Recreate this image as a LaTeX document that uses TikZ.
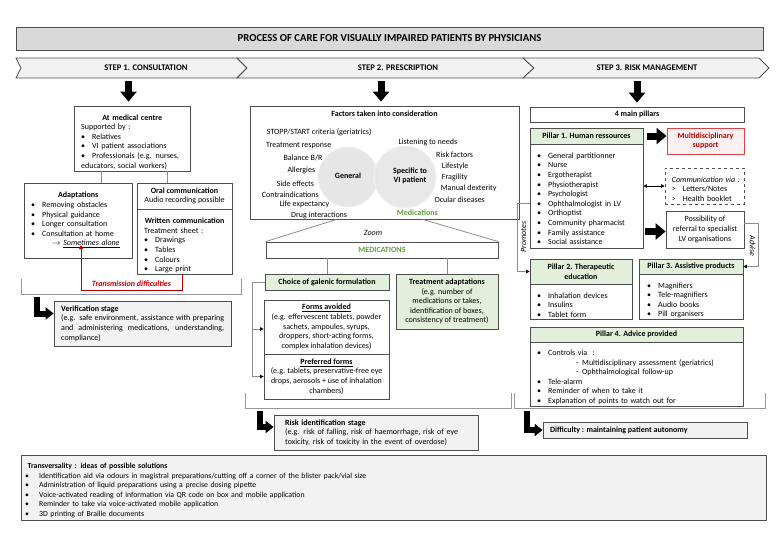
\documentclass[tikz,border=0pt]{standalone}
\usepackage{fontspec}
\setmainfont{Carlito}
\usetikzlibrary{arrows.meta,calc,fit}
\definecolor{bord}{HTML}{4D4D4D}
\definecolor{lgray}{HTML}{F2F2F2}
\definecolor{tgray}{HTML}{D9D9D9}
\definecolor{lgreen}{HTML}{E2EFDA}
\definecolor{dgreen}{HTML}{5E9E3A}
\definecolor{redt}{HTML}{C00000}
\definecolor{redb}{HTML}{D64545}
\definecolor{pinkf}{HTML}{FDF0F0}
\definecolor{lnkc}{HTML}{8C8C8C}
\definecolor{circc}{HTML}{E6E6E6}
\newcommand\fs{\fontsize{8}{9.6}\selectfont}
\newcommand\fst{\fontsize{7.75}{9.6}\selectfont}
\newcommand\li[1]{\par\noindent{#1}}
\newcommand\bu[1]{\par\noindent\hangindent=11pt\hangafter=1\hbox to 11pt{\textbullet\hfil}#1}
\newcommand\bw[1]{\par\noindent\hangindent=14pt\hangafter=1\hbox to 14pt{\textbullet\hfil}#1}
\newcommand\ct[1]{\par\noindent\hbox to\hsize{\hss#1\hss}}
\newcommand\subi[1]{\par\noindent\hspace*{39pt}\hbox to 6pt{-\hfil}#1}
\newcommand\gt[1]{\par\noindent\hbox to 11pt{>\hfil}#1}
\newcommand\mkbox[6]{\node[#6, fit={(#2,-#3) (#4,-#5)}] (#1) {};}
\tikzset{
  frame/.style={draw=bord, line width=0.8pt, inner sep=0pt},
  gframe/.style={frame, fill=lgray},
  nframe/.style={frame, fill=lgreen},
  txt/.style={inner sep=0pt, anchor=north west, align=left, font=\fs},
  ctxt/.style={inner sep=0pt, align=center, font=\fs},
  fl/.style={inner sep=0pt, anchor=west, font=\fs},
  steplab/.style={inner sep=0pt, font=\bfseries\fontsize{8.6}{10}\selectfont},
  chev/.style={fill=lgray, draw=bord, line width=0.8pt},
  lnk/.style={draw=lnkc, line width=0.8pt},
  brk/.style={draw=lnkc!90!white, line width=0.8pt},
  bigarrow/.style={line width=7pt, -{Triangle[length=10pt,width=16pt]}},
  larrow/.style={line width=6pt, -{Triangle[length=8pt,width=12pt]}},
  tip/.style={-{Triangle[length=3.5pt,width=3.5pt,black]}},
  rot/.style={inner sep=0pt, font=\fs\itshape}
}
\begin{document}
\begin{tikzpicture}[x=1pt,y=1pt]
\useasboundingbox (0,0) rectangle (779,-550);
\fill[white] (0,0) rectangle (779,-550);

% ---------- header ----------
\mkbox{title}{16}{27}{763}{50}{frame, fill=tgray}
\node[inner sep=0pt, font=\bfseries\fontsize{10.7}{12}\selectfont] (titleT) at (title) {PROCESS OF CARE FOR VISUALLY IMPAIRED PATIENTS BY PHYSICIANS};

\filldraw[chev] (16,-58) -- (237,-58) -- (247,-68) -- (237,-78) -- (16,-78) -- (21,-68) -- cycle;
\filldraw[chev] (237,-58) -- (523,-58) -- (534,-68) -- (523,-78) -- (237,-78) -- (247,-68) -- cycle;
\filldraw[chev] (523,-58) -- (759,-58) -- (769,-68) -- (759,-78) -- (523,-78) -- (534,-68) -- cycle;
\node[steplab] (s1) at (146,-68) {STEP 1. CONSULTATION};
\node[steplab] (s2) at (398,-68) {STEP 2. PRESCRIPTION};
\node[steplab] (s3) at (647,-68) {STEP 3. RISK MANAGEMENT};

\coordinate (a1) at (128.5,-81);
\coordinate (a2) at (381,-81);
\coordinate (a3) at (637,-81);

% ---------- step 1 ----------
\mkbox{med}{74}{106}{190}{171}{frame}
\node[txt, text width=102pt] (medT) at (81,-110.3) {\ct{\bfseries At medical centre}\li{Supported by :}\bu{Relatives}\bu{VI patient associations}\bu{Professionals (e.g. nurses,\newline educators, social workers)}};
\draw[bigarrow, shorten >=4pt] (a1) -- (a1 |- med.north);

\mkbox{adapt}{24}{183}{132}{258}{frame}
\node[txt, text width=94pt] (adaptT) at (31,-188) {\ct{\bfseries Adaptations}\bu{Removing obstacles}\bu{Physical guidance}\bu{Longer consultation}\bu{Consultation at home}\li{\hspace*{21pt}$\rightarrow$ \underline{\itshape Sometimes alone}}};
\coordinate (alone) at (81,-245);

\mkbox{oral}{137}{183}{232}{209}{frame}
\node[ctxt] (oralT) at (oral) {{\bfseries Oral communication}\\Audio recording possible};
\mkbox{writ}{137}{209}{232}{274}{frame}
\node[txt, text width=81pt] (writT) at (144,-213.8) {\ct{\bfseries Written communication}\li{Treatment sheet :}\bu{Drawings}\bu{Tables}\bu{Colours}\bu{Large print}};

\draw[lnk] ($(med.south west)+(28,0)$) -- ($(adapt.north west)+(78,0)$);
\draw[lnk] ($(med.south west)+(94,0)$) -- ($(oral.north west)+(31,0)$);

\draw[redt, line width=0.9pt, -{Triangle[length=4pt,width=4pt]}] ($(writ.south west)+(46,0)$) -- ++(0,-16) -| (alone);
\node[inner sep=0pt, font=\fs\bfseries\itshape, text=redt] (transd) at (131.5,-284) {Transmission difficulties};

\draw[brk] (21,-279) -- (21,-294) -- (241,-294) -- (241,-279);

\mkbox{ver}{54}{301}{231}{346}{gframe}
\node[txt, text width=163pt, align=justify] (verT) at (61,-305.5) {{\bfseries Verification stage}\par(e.g. safe environment, assistance with preparing\linebreak and administering medications, understanding,\linebreak compliance)};
\coordinate (L1) at (37,-296.5);
\draw[larrow] (L1) |- ([yshift=10pt]ver.west);

% ---------- step 2 ----------
\mkbox{fac}{250}{106}{519}{219}{frame}
\draw[bigarrow, shorten >=4pt] (a2) -- (a2 |- fac.north);
\node[ctxt, font=\fs\bfseries] (facT) at (384.5,-113.5) {Factors taken into consideration};
\node[circle, inner sep=0pt, minimum size=60pt, fill=circc, draw=white!50!circc, line width=0.8pt] (cg) at (348,-177) {};
\node[circle, inner sep=0pt, minimum size=62pt, fill=circc, fill opacity=0.9, draw=white!50!circc, line width=0.8pt] (cs) at (405,-177) {};
\node[ctxt, font=\fs\bfseries] (cgT) at (348,-176) {General};
\node[ctxt, font=\fs\bfseries] (csT) at (410,-176) {Specific to\\VI patient};
\node[fl] (f1) at (266.7,-132.3) {STOPP/START criteria (geriatrics)};
\node[fl] (f2) at (266,-145.7) {Treatment response};
\node[fl] (f3) at (283.3,-158) {Balance B/R};
\node[fl] (f4) at (287.3,-170.7) {Allergies};
\node[fl] (f5) at (276.7,-183.3) {Side effects};
\node[fl] (f6) at (261.7,-194.3) {Contraindications};
\node[fl] (f7) at (279.3,-204.3) {Life expectancy};
\node[fl] (f8) at (291,-215.7) {Drug interactions};
\node[fl] (g1) at (398.3,-142.3) {Listening to needs};
\node[fl] (g2) at (436,-154.7) {Risk factors};
\node[fl] (g3) at (441.7,-166) {Lifestyle};
\node[fl] (g4) at (441.7,-177) {Fragility};
\node[fl] (g5) at (440.7,-188.7) {Manual dexterity};
\node[fl] (g6) at (434.3,-200) {Ocular diseases};
\node[fl, text=dgreen, font=\fs\bfseries] (g7) at (396.7,-212.3) {Medications};

\mkbox{meds}{266}{242}{498}{258}{frame}
\node[ctxt, font=\fs\bfseries, text=dgreen] (medsT) at (meds) {MEDICATIONS};
\draw[lnk] ($(fac.south west)+(87,0)$) -- (meds.north west);
\draw[lnk] ($(fac.south west)+(173,0)$) -- (meds.north east);
\node[ctxt, font=\fs\itshape] (zoomT) at (373,-233) {Zoom};

\mkbox{galenic}{265}{274}{389}{290}{nframe}
\node[ctxt, font=\fs\bfseries] (galT) at (galenic) {Choice of galenic formulation};
\mkbox{treat}{396}{274}{498}{329}{nframe}
\node[ctxt] (treatT) at (treat) {{\bfseries Treatment adaptations}\\(e.g. number of\\medications or takes,\\identification of boxes,\\consistency of treatment)};
\draw[lnk] ($(meds.south west)+(62,0)$) -- ($(galenic.north west)+(63,0)$);
\draw[lnk] ($(meds.south west)+(182,0)$) -- ($(treat.north west)+(52,0)$);

\mkbox{avoid}{264}{300}{389}{354}{frame}
\node[ctxt] (avoidT) at (avoid) {\underline{\bfseries Forms avoided}\\(e.g. effervescent tablets, powder\\sachets, ampoules, syrups,\\droppers, short-acting forms,\\complex inhalation devices)};
\mkbox{pref}{264}{354}{389}{399}{frame}
\node[ctxt] (prefT) at (pref) {\underline{\bfseries Preferred forms}\\(e.g. tablets, preservative-free eye\\drops, aerosols + use of inhalation\\chambers)};
\draw[lnk, tip] (galenic.west) -- ++(-12,0) coordinate (gk) |- ([yshift=-2pt]avoid.west);
\draw[lnk, tip] (gk) |- (pref.west);

\draw[brk] (245,-393) -- (245,-408) -- (511,-408) -- (511,-393);

\mkbox{risk}{274}{415}{478}{450}{gframe}
\node[txt, text width=190pt] (riskT) at (285,-419.3) {{\bfseries Risk identification stage}\par(e.g. risk of falling, risk of haemorrhage, risk of eye\newline toxicity, risk of toxicity in the event of overdose)};
\coordinate (L2) at (259.5,-410.5);
\draw[larrow] (L2) |- ([yshift=5.5pt]risk.west);

% ---------- step 3 ----------
\mkbox{pillars}{530}{107}{744}{122}{frame}
\node[ctxt, font=\fs\bfseries] (pillarsT) at (pillars) {4 main pillars};
\draw[bigarrow, shorten >=4pt] (a3) -- (a3 |- pillars.north);

\mkbox{p1h}{530}{128}{643}{144}{nframe}
\node[ctxt, font=\fs\bfseries] (p1hT) at (p1h) {Pillar 1. Human ressources};
\mkbox{p1b}{530}{144}{643}{248}{frame}
\node[txt, text width=99pt] (p1bT) at (537,-148.5) {\bu{General partitionner}\bu{Nurse}\bu{Ergotherapist}\bu{Physiotherapist}\bu{Psychologist}\bu{Ophthalmologist in LV}\bu{Orthoptist}\bu{Community pharmacist}\bu{Family assistance}\bu{Social assistance}};

\mkbox{multi}{667}{128}{744}{154}{draw=redb, line width=0.9pt, fill=pinkf, inner sep=0pt}
\node[ctxt, font=\fs\bfseries, text=redt] (multiT) at (multi) {Multidisciplinary\\support};
\draw[bigarrow] ([xshift=4pt]p1h.east) -- (multi.west |- p1h.east);

\mkbox{comm}{665}{168}{744}{204}{draw=bord, line width=0.8pt, dashed, inner sep=0pt}
\node[txt, text width=70pt] (commT) at (671.7,-172.3) {\li{\itshape Communication via :}\gt{Letters/Notes}\gt{Health booklet}};
\draw[{Triangle[length=3.5pt,width=3.5pt]}-{Triangle[length=3.5pt,width=3.5pt]}, line width=0.6pt] (comm.west -| p1b.east) -- (comm.west);

\mkbox{refer}{666}{211}{744}{248}{frame}
\node[ctxt] (referT) at (refer) {Possibility of\\referral to specialist\\LV organisations};
\draw[bigarrow] ($(refer.west -| p1b.east)+(2,-2)$) -- ($(refer.west)+(0,-2)$);

\mkbox{p2h}{530}{259}{632}{284}{nframe}
\node[ctxt, font=\fs\bfseries] (p2hT) at (p2h) {Pillar 2. Therapeutic\\education};
\mkbox{p2b}{530}{284}{632}{319}{frame}
\node[txt, text width=88pt] (p2bT) at (537,-288.3) {\bu{Inhalation devices}\bu{Insulins}\bu{Tablet form}};

\mkbox{p3h}{639}{259}{743}{274}{nframe}
\node[ctxt, font=\fs\bfseries] (p3hT) at (p3h) {Pillar 3. Assistive products};
\mkbox{p3b}{639}{274}{743}{319}{frame}
\node[txt, text width=90pt] (p3bT) at (647,-278.3) {\bu{Magnifiers}\bu{Tele-magnifiers}\bu{Audio books}\bu{Pill organisers}};

\mkbox{p4h}{530}{327}{743}{342}{nframe}
\node[ctxt, font=\fs\bfseries] (p4hT) at (p4h) {Pillar 4. Advice provided};
\mkbox{p4b}{530}{342}{743}{406}{frame}
\node[txt, text width=199pt] (p4bT) at (537,-345.7) {\bu{Controls via\ \ :}\subi{Multidisciplinary assessment (geriatrics)}\subi{Ophthalmological follow-up}\bu{Tele-alarm}\bu{Reminder of when to take it}\bu{Explanation of points to watch out for}};

\draw[lnk, tip] ([yshift=-7pt]p1b.west) -- ++(-12,0) |- (p2h.west);
\node[rot, rotate=90] (promT) at (523.5,-237) {Promotes};
\draw[lnk, tip] ([yshift=6.5pt]refer.east) -- ++(14,0) |- (p3h.east);
\node[rot, rotate=-90] (advT) at (752.5,-246) {Advise};

\draw[brk] (514,-393) -- (514,-408) -- (765,-408) -- (765,-393);

\mkbox{diff}{543}{422}{747}{438}{gframe}
\node[fl, font=\fs\bfseries] (diffT) at (550,-430) {Difficulty : maintaining patient autonomy};
\coordinate (L3) at (527,-411);
\draw[larrow] (L3) |- (diff.west);

% ---------- transversality ----------
\mkbox{trans}{21}{455}{766}{520}{gframe}
\node[txt, font=\fst, text width=735pt] (transT) at (25,-458.7) {\li{\hspace*{2.5pt}\bfseries Transversality : ideas of possible solutions}\bw{Identification aid via odours in magistral preparations/cutting off a corner of the blister pack/vial size}\bw{Administration of liquid preparations using a precise dosing pipette}\bw{Voice-activated reading of information via QR code on box and mobile application}\bw{Reminder to take via voice-activated mobile application}\bw{3D printing of Braille documents}};
\end{tikzpicture}
\end{document}
